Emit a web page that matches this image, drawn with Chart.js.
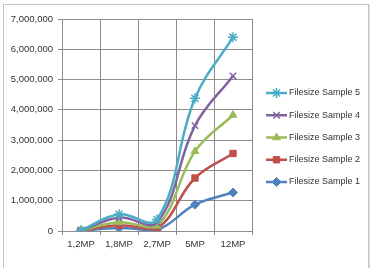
<!DOCTYPE html>
<html>
<head>
<meta charset="utf-8">
<script src="https://cdn.jsdelivr.net/npm/chart.js@4/dist/chart.umd.min.js"></script>
<style>
  html, body { margin: 0; padding: 0; background: #fff; }
  #wrap { position: relative; width: 374px; height: 268px; overflow: hidden; }
  #frame { position: absolute; left: 3px; top: 4px; width: 364px; height: 280px; border: 1px solid #c4c4c4; box-shadow: 1px 1px 1px #e0e0e0; }
  #plots { position: absolute; left: 0; top: 0; }
</style>
</head>
<body>
<div id="wrap">
  <div id="frame"></div>
  <canvas id="plots" width="374" height="268"></canvas>
</div>
<script>
// categorias do eixo X
var resolutions = ["1,2MP", "1,8MP", "2,7MP", "5MP", "12MP"];
// valores (bytes)
var sample1 = [12000, 100000, 40000, 870000, 1270000];
var sample2 = [15000, 190000, 90000, 1750000, 2560000];
var sample3 = [18000, 290000, 170000, 2630000, 3830000];
var sample4 = [20000, 440000, 280000, 3480000, 5120000];
var sample5 = [25000, 550000, 380000, 4380000, 6400000];
var seriesNames = ["Filesize Sample 1", "Filesize Sample 2", "Filesize Sample 3", "Filesize Sample 4", "Filesize Sample 5"];
var yTicks = [0, 1000000, 2000000, 3000000, 4000000, 5000000, 6000000, 7000000];

var colors = ["#4F81BD", "#C0504D", "#9BBB59", "#8064A2", "#4BACC6"];
var markers = ["rectRot", "rect", "triangle", "crossRot", "star"];
var radii = [4.5, 4.5, 4.5, 4.5, 5];
var allSeries = [sample1, sample2, sample3, sample4, sample5];

var fontFam = "'Liberation Sans', Arial, sans-serif";
Chart.defaults.font.family = fontFam;
Chart.defaults.font.size = 9.5;
Chart.defaults.color = "#333";

var datasets = allSeries.map(function (vals, i) {
  return {
    label: seriesNames[i],
    data: vals,
    borderColor: colors[i],
    backgroundColor: colors[i],
    borderWidth: 2.5,
    pointStyle: markers[i],
    pointRadius: radii[i],
    pointBorderWidth: (i >= 3) ? 1.5 : 1,
    tension: 0.4,
    fill: false,
    order: 5 - i // amostra 5 por cima
  };
});

// legenda desenhada a mao (linha + marcador, estilo Excel), amostra 5 em cima
var excelLegend = {
  id: "excelLegend",
  afterDraw: function (chart) {
    var ctx = chart.ctx;
    var x0 = chart.chartArea.right + 14;
    var y0 = 93, step = 22.25;
    for (var k = 0; k < chart.data.datasets.length; k++) {
      var i = chart.data.datasets.length - 1 - k;
      var ds = chart.data.datasets[i];
      var cy = y0 + k * step;
      ctx.save();
      ctx.strokeStyle = ds.borderColor;
      ctx.fillStyle = ds.backgroundColor;
      ctx.lineWidth = 2.5;
      ctx.beginPath();
      ctx.moveTo(x0, cy);
      ctx.lineTo(x0 + 21, cy);
      ctx.stroke();
      ctx.lineWidth = ds.pointBorderWidth;
      Chart.helpers.drawPoint(ctx, { pointStyle: ds.pointStyle, radius: ds.pointRadius, rotation: 0, borderWidth: ds.pointBorderWidth }, x0 + 10.5, cy);
      ctx.fillStyle = "#333";
      ctx.font = "9px " + fontFam;
      ctx.textBaseline = "middle";
      ctx.textAlign = "left";
      ctx.fillText(ds.label, x0 + 23, cy);
      ctx.restore();
    }
  }
};

new Chart(document.getElementById("plots"), {
  type: "line",
  data: { labels: resolutions, datasets: datasets },
  plugins: [excelLegend],
  options: {
    responsive: false,
    animation: false,
    layout: { padding: { left: 0, top: 19, right: 122, bottom: 7 } },
    plugins: {
      legend: { display: false },
      tooltip: { enabled: false }
    },
    scales: {
      x: {
        offset: true,
        grid: { offset: true, color: "#8c8c8c", tickLength: 4, drawTicks: true },
        border: { color: "#8c8c8c" },
        ticks: { padding: 4, color: "#333" },
        afterFit: function (s) { s.height = 30; }
      },
      y: {
        min: 0,
        max: 7000000,
        afterBuildTicks: function (s) { s.ticks = yTicks.map(function (v) { return { value: v }; }); },
        grid: { color: "#8c8c8c", tickLength: 4 },
        border: { color: "#8c8c8c" },
        ticks: {
          padding: 5,
          color: "#333",
          callback: function (v) { return Number(v).toLocaleString("en-US"); }
        },
        afterFit: function (s) { s.width = 62; }
      }
    }
  }
});
</script>
</body>
</html>
